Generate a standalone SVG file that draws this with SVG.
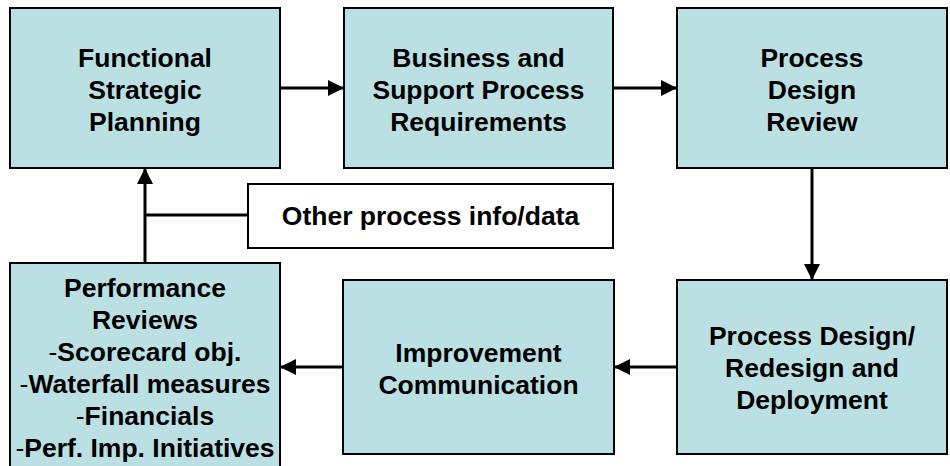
<svg xmlns="http://www.w3.org/2000/svg" width="950" height="466" viewBox="0 0 950 466">
<defs>
<style>
.box{fill:#BBE0E3;stroke:#000;stroke-width:2}
.wbox{fill:#fff;stroke:#000;stroke-width:2}
.t{font-family:"Liberation Sans",Arial,sans-serif;font-weight:bold;font-size:26.5px;text-anchor:middle;fill:#000}
.d{font-weight:normal}
.c{stroke:#000;stroke-width:3;fill:none}
</style>
<marker id="ah" markerUnits="userSpaceOnUse" markerWidth="18" markerHeight="16" refX="16" refY="8" orient="auto">
<path d="M0,0 L16,8 L0,16 Z" fill="#000"/>
</marker>
</defs>
<rect width="950" height="466" fill="#fff"/>
<g id="connectors">
<line class="c" x1="280" y1="88" x2="344" y2="88" marker-end="url(#ah)"/>
<line class="c" x1="613" y1="88" x2="677" y2="88" marker-end="url(#ah)"/>
<line class="c" x1="812" y1="168" x2="812" y2="280" marker-end="url(#ah)"/>
<line class="c" x1="677" y1="367" x2="614" y2="367" marker-end="url(#ah)"/>
<line class="c" x1="343" y1="367" x2="280" y2="367" marker-end="url(#ah)"/>
<line class="c" x1="145" y1="263" x2="145" y2="168" stroke-width="4" marker-end="url(#ah)"/>
<line class="c" x1="145" y1="215" x2="248" y2="215"/>
</g>
<g id="n1">
<rect class="box" x="10" y="8" width="270" height="160"/>
<text class="t" x="145" y="67">Functional</text>
<text class="t" x="145" y="99">Strategic</text>
<text class="t" x="145" y="131">Planning</text>
</g>
<g id="n2">
<rect class="box" x="344" y="8" width="269" height="160"/>
<text class="t" x="478.5" y="67">Business and</text>
<text class="t" x="478.5" y="99">Support Process</text>
<text class="t" x="478.5" y="131">Requirements</text>
</g>
<g id="n3">
<rect class="box" x="677" y="8" width="270" height="160"/>
<text class="t" x="812" y="67">Process</text>
<text class="t" x="812" y="99">Design</text>
<text class="t" x="812" y="131">Review</text>
</g>
<g id="n4">
<rect class="wbox" x="248" y="184" width="365" height="64"/>
<text class="t" x="430.5" y="225">Other process info/data</text>
</g>
<g id="n5">
<rect class="box" x="10" y="263" width="270" height="210"/>
<text class="t" x="145" y="297">Performance</text>
<text class="t" x="145" y="329">Reviews</text>
<text class="t" x="145" y="361"><tspan class="d">-</tspan>Scorecard obj.</text>
<text class="t" x="145" y="393"><tspan class="d">-</tspan>Waterfall measures</text>
<text class="t" x="145" y="425"><tspan class="d">-</tspan>Financials</text>
<text class="t" x="145" y="457"><tspan class="d">-</tspan>Perf. Imp. Initiatives</text>
</g>
<g id="n6">
<rect class="box" x="343" y="280" width="271" height="174"/>
<text class="t" x="478.5" y="362">Improvement</text>
<text class="t" x="478.5" y="394">Communication</text>
</g>
<g id="n7">
<rect class="box" x="677" y="280" width="270" height="174"/>
<text class="t" x="812" y="345">Process Design/</text>
<text class="t" x="812" y="377">Redesign and</text>
<text class="t" x="812" y="409">Deployment</text>
</g>
</svg>
